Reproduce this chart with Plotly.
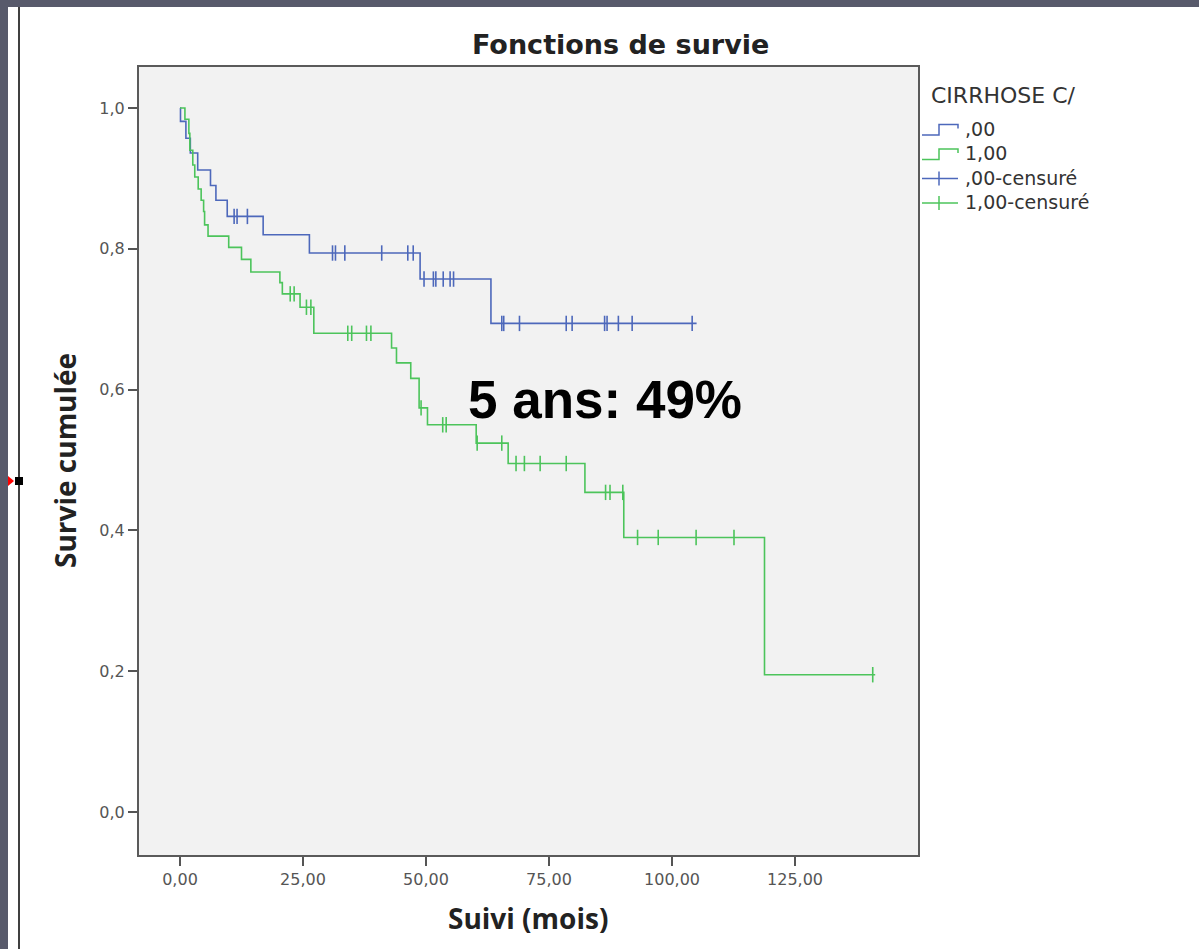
import plotly.graph_objects as go

# ---------------- data ----------------
# group ",00" (blue)
blue_event_t = [0.1, 1.2, 2.1, 3.6, 6.2, 7.3, 9.6, 16.9, 26.3, 48.8, 63.2]
blue_event_s = [0.981, 0.957, 0.936, 0.912, 0.890, 0.869, 0.846, 0.820, 0.794, 0.757, 0.694]
blue_cens_t = [11.0, 11.6, 13.7, 31.0, 31.6, 33.5, 41.0, 46.3, 47.4,
               49.6, 51.5, 52.0, 53.5, 54.9, 55.6,
               65.4, 65.8, 69.0, 78.5, 79.7, 86.3, 86.8, 89.1, 91.9, 104.1]
blue_end_t = 105.0

# group "1,00" (green)
green_event_t = [1.0, 1.8, 2.0, 2.6, 3.0, 3.7, 4.3, 4.8, 5.0, 5.7, 9.9, 12.5, 14.4,
                 20.3, 20.8, 24.4, 27.2, 43.0, 44.0, 46.9, 48.6, 50.3, 60.2, 66.7,
                 82.3, 90.2, 118.8]
green_event_s = [0.984, 0.964, 0.940, 0.919, 0.902, 0.885, 0.869, 0.853, 0.834, 0.818,
                 0.802, 0.785, 0.767, 0.752, 0.736, 0.717, 0.680, 0.659, 0.638, 0.616,
                 0.574, 0.550, 0.524, 0.495, 0.454, 0.390, 0.195]
green_cens_t = [22.4, 23.2, 25.7, 26.6, 34.1, 34.9, 37.9, 38.8, 49.0, 53.4, 54.1,
                60.4, 65.4, 68.3, 70.0, 73.2, 78.5, 86.5, 87.4, 90.0,
                93.0, 97.2, 104.9, 112.6, 140.8]
green_end_t = 141.3

x_ticks = [0, 25, 50, 75, 100, 125]
y_ticks = [0.0, 0.2, 0.4, 0.6, 0.8, 1.0]

legend_title = "CIRRHOSE C/"
legend_labels = [",00", "1,00", ",00-censuré", "1,00-censuré"]

BLUE = "#4d68bb"
GREEN = "#4cc45b"

# ---------------- layout helpers ----------------
W, H = 1199, 949
L, R, T, B = 139, 918, 67, 855


def px(x):
    return (x - L) / (R - L)


def py(y):
    return (B - y) / (B - T)


def step_xy(times, surv, end):
    xs = [0.0] + list(times) + [end]
    ys = [1.0] + list(surv) + [surv[-1]]
    return xs, ys


def surv_at(t, times, surv):
    s = 1.0
    for ti, si in zip(times, surv):
        if ti <= t:
            s = si
    return s


fig = go.Figure()

for times, surv, end, cens, col in [
    (blue_event_t, blue_event_s, blue_end_t, blue_cens_t, BLUE),
    (green_event_t, green_event_s, green_end_t, green_cens_t, GREEN),
]:
    xs, ys = step_xy(times, surv, end)
    fig.add_trace(go.Scatter(x=xs, y=ys, mode="lines", line=dict(color=col, width=1.6, shape="hv"),
                             showlegend=False, hoverinfo="skip"))
    fig.add_trace(go.Scatter(x=cens, y=[surv_at(t, times, surv) for t in cens], mode="markers",
                             marker=dict(symbol="line-ns", size=11, line=dict(color=col, width=1.6)),
                             showlegend=False, hoverinfo="skip"))

x0 = (L - 180) / 4.92
x1 = (R - 180) / 4.92
y0 = -(B - 812) / 704
y1 = 1 + (108 - T) / 704

tickfont = dict(family="DejaVu Sans", size=16, color="#555")
fig.update_xaxes(range=[x0, x1], tickvals=x_ticks, tickformat=".2f", ticks="outside", ticklen=9,
                 tickwidth=1.5, tickcolor="#555", showgrid=False, zeroline=False, showline=True,
                 mirror=True, linecolor="#5a5a5a", linewidth=2, tickfont=tickfont)
fig.update_yaxes(range=[y0, y1], tickvals=y_ticks, tickformat=".1f", ticks="outside", ticklen=9,
                 tickwidth=1.5, tickcolor="#555", showgrid=False, zeroline=False, showline=True,
                 mirror=True, linecolor="#5a5a5a", linewidth=2, tickfont=tickfont)


def note(text, x, y, size, family="DejaVu Sans", color="#222", xanchor="center", angle=0):
    return dict(text=text, x=px(x), y=py(y), xref="paper", yref="paper", xanchor=xanchor,
                yanchor="middle", showarrow=False, textangle=angle,
                font=dict(family=family, size=size, color=color))


ann = [
    note("<b>Fonctions de survie</b>", 620, 45, 27),
    note("<b>Survie cumulée</b>", 65, 461, 28, family="Open Sans", angle=-90),
    note("<b>Suivi (mois)</b>", 528, 918, 28, family="Open Sans"),
    note("<b>5 ans: 49%</b>", 605, 400, 53, family="Liberation Sans", color="black"),
    note(legend_title, 929, 95, 22, color="#333", xanchor="left"),
]
for i, lab in enumerate(legend_labels):
    ann.append(note(lab, 963, 129 + 24.5 * i, 19, color="#333", xanchor="left"))

shapes = []
# legend symbols
for i, col in enumerate([BLUE, GREEN]):
    yb = 135 + 24.5 * i
    pts = [(922, yb), (939, yb), (939, yb - 10.5), (958, yb - 10.5), (958, yb - 6.5)]
    path = "M " + " L ".join(f"{px(a)},{py(b)}" for a, b in pts)
    shapes.append(dict(type="path", path=path, xref="paper", yref="paper",
                       line=dict(color=col, width=1.5)))
for i, col in enumerate([BLUE, GREEN]):
    yc = 178.5 + 24.5 * i
    shapes.append(dict(type="line", x0=px(922), x1=px(958), y0=py(yc), y1=py(yc), xref="paper",
                       yref="paper", line=dict(color=col, width=1.5)))
    shapes.append(dict(type="line", x0=px(939), x1=px(939), y0=py(yc - 7), y1=py(yc + 7),
                       xref="paper", yref="paper", line=dict(color=col, width=1.5)))

# screenshot frame artefacts
DARK = "#585a6b"
shapes.append(dict(type="rect", x0=px(0), x1=px(W), y0=py(0), y1=py(7), xref="paper", yref="paper",
                   line=dict(width=0), fillcolor=DARK, layer="above"))
shapes.append(dict(type="rect", x0=px(0), x1=px(8), y0=py(0), y1=py(H), xref="paper", yref="paper",
                   line=dict(width=0), fillcolor=DARK, layer="above"))
shapes.append(dict(type="line", x0=px(19), x1=px(19), y0=py(7), y1=py(H), xref="paper", yref="paper",
                   line=dict(color="black", width=1.5)))
shapes.append(dict(type="rect", x0=px(15), x1=px(23), y0=py(477), y1=py(485), xref="paper",
                   yref="paper", line=dict(width=0), fillcolor="black"))
shapes.append(dict(type="path", path=f"M {px(8)},{py(476)} L {px(14)},{py(481)} L {px(8)},{py(486)} Z",
                   xref="paper", yref="paper", line=dict(width=0), fillcolor="red"))

fig.update_layout(width=W, height=H, margin=dict(l=L, r=W - R, t=T, b=H - B, autoexpand=False),
                  plot_bgcolor="#f2f2f2", paper_bgcolor="white", separators=", ",
                  annotations=ann, shapes=shapes, showlegend=False)

fig.write_html("out.html", config={"displayModeBar": False},
               post_script="document.body.style.margin='0px';")
